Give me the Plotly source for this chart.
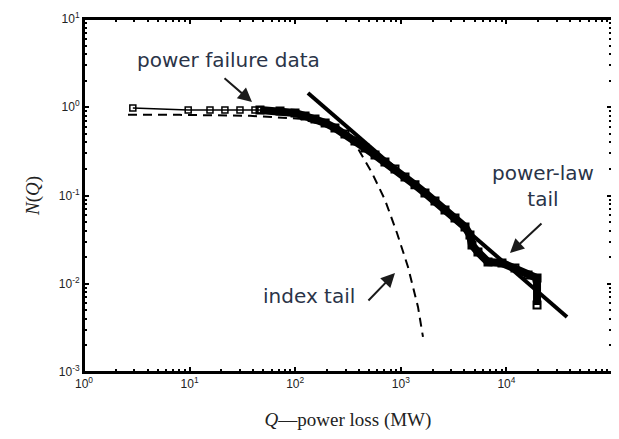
import plotly.graph_objects as go

# Power failure data (Q in MW, N(Q)) - sparse low-loss part
low_q = [2.9, 9.7, 15.6, 21.6, 30, 41.6, 46.4]
low_n = [0.98, 0.93, 0.93, 0.93, 0.93, 0.93, 0.931]
# Power failure data - dense part
data_q = [46.4, 71.8, 99.6, 124, 154, 192, 238, 296, 368, 458, 570, 708, 881, 1096, 1362,
          1694, 2107, 2622, 3260, 4055, 4520, 4722, 5380, 6700, 9080, 12050, 16030, 19500, 19500]
data_n = [0.931, 0.907, 0.861, 0.796, 0.736, 0.663, 0.582, 0.498, 0.415, 0.345, 0.288, 0.240,
          0.200, 0.162, 0.132, 0.107, 0.0867, 0.0685, 0.0556, 0.0440, 0.0357, 0.0275, 0.0229,
          0.0176, 0.0172, 0.0151, 0.0126, 0.0116, 0.00574]

# Exponential ("index") tail fit
exp_q = [2.61, 8.1, 37.3, 111, 172, 266, 385, 534, 709, 920, 1170, 1455, 1622]
exp_n = [0.82, 0.82, 0.8, 0.74, 0.65, 0.524, 0.355, 0.18, 0.089, 0.0376, 0.0155, 0.00546, 0.0025]

# Power-law tail fit
pl_q = [132, 37500]
pl_n = [1.45, 0.0042]

x_tickvals = [1, 10, 100, 1000, 10000, 100000]
x_ticktext = ["10<sup>0</sup>", "10<sup>1</sup>", "10<sup>2</sup>", "10<sup>3</sup>", "10<sup>4</sup>", "10<sup>5</sup>"]
y_tickvals = [0.001, 0.01, 0.1, 1, 10]
y_ticktext = ["10<sup>-3</sup>", "10<sup>-2</sup>", "10<sup>-1</sup>", "10<sup>0</sup>", "10<sup>1</sup>"]
x_minor = [m * 10 ** k for k in range(0, 5) for m in range(2, 10)]
y_minor = [m * 10.0 ** k for k in range(-3, 1) for m in range(2, 10)]

fig = go.Figure()
fig.add_trace(go.Scatter(x=exp_q, y=exp_n, mode="lines",
                         line=dict(color="black", width=2, dash="9px,6px"), hoverinfo="skip"))
fig.add_trace(go.Scatter(x=low_q, y=low_n, mode="lines+markers",
                         line=dict(color="black", width=1.5),
                         marker=dict(symbol="square-open", size=6, color="black", line=dict(width=1.5))))
fig.add_trace(go.Scatter(x=data_q, y=data_n, mode="lines+markers",
                         line=dict(color="black", width=8),
                         marker=dict(symbol="square-open", size=7, color="black", line=dict(width=2))))
fig.add_trace(go.Scatter(x=pl_q, y=pl_n, mode="lines", line=dict(color="black", width=4)))

txt_font = dict(family="DejaVu Sans", size=20, color="#2a3448")
fig.add_annotation(x=1.373, y=0.535, xref="x", yref="y", text="power failure data",
                   showarrow=False, font=txt_font)
fig.add_annotation(x=4.347, y=-0.892, xref="x", yref="y", text="power-law<br>tail",
                   showarrow=False, font=txt_font)
fig.add_annotation(x=2.13, y=-2.139, xref="x", yref="y", text="index tail",
                   showarrow=False, font=txt_font)

arrow = dict(showarrow=True, arrowhead=2, arrowsize=1.4, arrowwidth=2, arrowcolor="#1a1a1a", text="",
             xref="x", yref="y")
fig.add_annotation(x=1.591, y=0.0595, ax=-29, ay=-25, **arrow)
fig.add_annotation(x=4.034, y=-1.652, ax=33, ay=-31, **arrow)
fig.add_annotation(x=2.945, y=-1.878, ax=-28, ay=29, **arrow)

fig.add_shape(type="rect", xref="paper", yref="paper", x0=0, y0=0, x1=1, y1=1,
              line=dict(color="black", width=2))

tick_font = dict(family="Liberation Sans", size=12, color="#222")
common = dict(ticks="inside", ticklen=5, tickwidth=1.5, tickcolor="black", showline=True,
              linecolor="black", linewidth=2, mirror="allticks", showgrid=False, zeroline=False,
              automargin=False, tickfont=tick_font)
fig.update_xaxes(type="log", range=[0, 5], tickvals=x_tickvals, ticktext=x_ticktext,
                 minor=dict(ticks="inside", ticklen=3, tickcolor="black", tickmode="array",
                            tickvals=x_minor, showgrid=False),
                 title=dict(text="<i>Q</i>—power loss (MW)",
                            font=dict(family="Liberation Serif", size=19, color="#222"), standoff=22),
                 **common)
fig.update_yaxes(type="log", range=[-3, 1], tickvals=y_tickvals, ticktext=y_ticktext,
                 minor=dict(ticks="inside", ticklen=3, tickcolor="black", tickmode="array",
                            tickvals=y_minor, showgrid=False),
                 title=dict(text="<i>N</i>(<i>Q</i>)",
                            font=dict(family="Liberation Serif", size=19, color="#222"), standoff=14),
                 **common)
# page body has an 8px margin; size and margins compensate so the plot box sits where it should
fig.update_layout(width=611, height=431, margin=dict(l=76, r=7, t=11, b=67),
                  plot_bgcolor="white", paper_bgcolor="white", showlegend=False)
fig.write_html("out.html")
